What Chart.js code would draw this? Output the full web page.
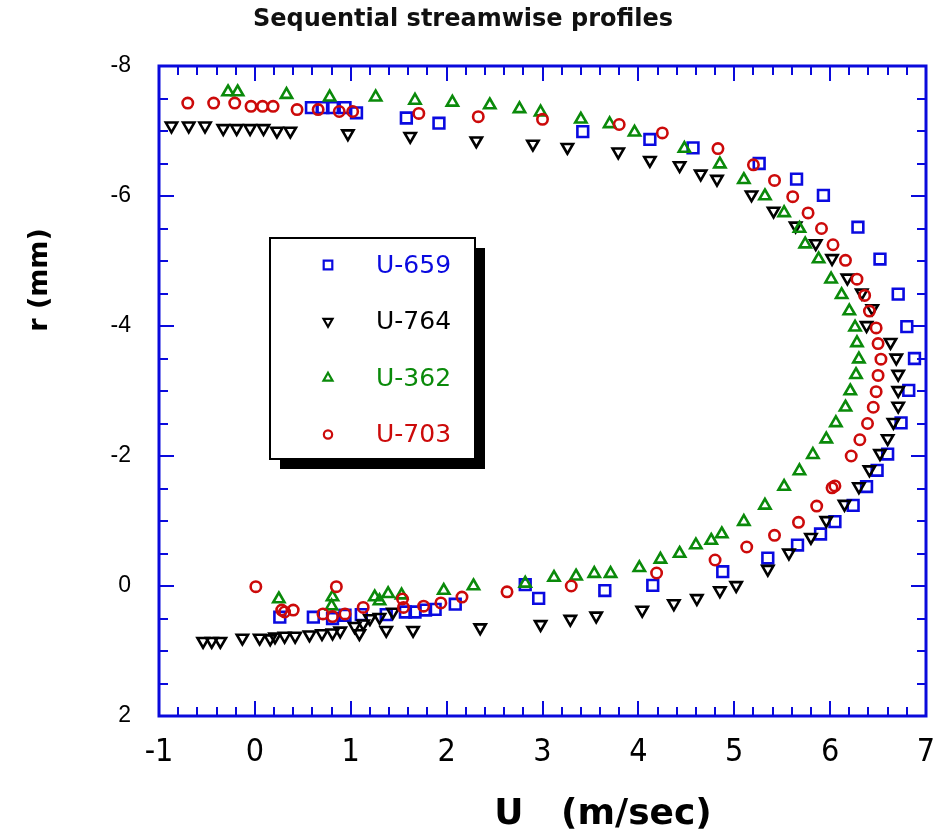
<!DOCTYPE html>
<html>
<head>
<meta charset="utf-8">
<title>Sequential streamwise profiles</title>
<script src="https://cdn.jsdelivr.net/npm/chart.js@4.4.1/dist/chart.umd.min.js"></script>
<style>
  html, body { margin: 0; padding: 0; background: #fff; }
  #wrap { width: 937px; height: 839px; }
</style>
</head>
<body>
<div id="wrap"><canvas id="myChart" width="937" height="839"></canvas></div>
<script>
// streamwise velocity U (m/sec) against radial position r (mm), one pair of arrays per run
const u659 = [0.59, 0.71, 0.81, 0.94, 1.06, 1.58, 1.92, 3.42, 4.12, 4.57, 5.26, 5.65, 5.93, 6.29, 6.52,
  6.71, 6.80, 6.88, 6.82, 6.74, 6.60, 6.49, 6.38, 6.24, 6.05, 5.90, 5.66, 5.35, 4.88, 4.15, 3.65,
  2.96, 2.82, 2.09, 1.88, 1.78, 1.67, 1.57, 1.37, 1.11, 0.94, 0.81, 0.61, 0.26];
const r659 = [-7.36, -7.36, -7.36, -7.36, -7.28, -7.20, -7.12, -6.99, -6.87, -6.74, -6.50, -6.26, -6.01, -5.52, -5.03,
  -4.49, -3.99, -3.50, -3.01, -2.51, -2.03, -1.78, -1.53, -1.24, -0.99, -0.80, -0.63, -0.43, -0.22, -0.01, 0.07,
  0.19, -0.02, 0.28, 0.36, 0.37, 0.40, 0.40, 0.44, 0.44, 0.45, 0.50, 0.48, 0.48];

const u764 = [-0.87, -0.69, -0.52, -0.33, -0.19, -0.05, 0.09, 0.23, 0.37, 0.97, 1.62, 2.31, 2.90, 3.26, 3.79,
  4.12, 4.43, 4.65, 4.82, 5.18, 5.41, 5.64, 5.85, 6.02, 6.18, 6.33, 6.44, 6.38, 6.63, 6.69, 6.71, 6.71,
  6.71, 6.66, 6.60, 6.52, 6.41, 6.30, 6.15, 5.96, 5.80, 5.57, 5.35, 5.02, 4.85, 4.61, 4.37, 4.04, 3.56,
  3.29, 2.98, 2.35, 1.65, 1.37, 1.44, 1.30, 1.20, 1.13, 1.04, 1.09, 0.89, 0.81, 0.70, 0.57, 0.42, 0.31,
  0.21, 0.16, 0.05, -0.13, -0.36, -0.45, -0.54];
const r764 = [-7.08, -7.08, -7.08, -7.04, -7.04, -7.04, -7.04, -7.00, -7.00, -6.96, -6.92, -6.85, -6.80, -6.75, -6.68,
  -6.55, -6.47, -6.34, -6.26, -6.02, -5.77, -5.54, -5.27, -5.04, -4.74, -4.51, -4.27, -4.01, -3.75, -3.51, -3.26, -3.01,
  -2.77, -2.52, -2.27, -2.04, -1.79, -1.53, -1.26, -1.01, -0.75, -0.51, -0.26, -0.01, 0.07, 0.19, 0.27, 0.37, 0.46,
  0.51, 0.59, 0.64, 0.68, 0.68, 0.40, 0.48, 0.50, 0.58, 0.62, 0.73, 0.69, 0.72, 0.73, 0.75, 0.77, 0.77,
  0.78, 0.81, 0.80, 0.80, 0.85, 0.85, 0.85];

const u362 = [-0.28, -0.18, 0.33, 0.78, 1.26, 1.67, 2.06, 2.45, 2.76, 2.98, 3.40, 3.70, 3.96, 4.48, 4.85,
  5.10, 5.32, 5.52, 5.68, 5.74, 5.88, 6.01, 6.12, 6.20, 6.26, 6.28, 6.30, 6.27, 6.21, 6.16, 6.06, 5.96,
  5.82, 5.68, 5.52, 5.32, 5.10, 4.87, 4.76, 4.60, 4.43, 4.23, 4.01, 3.71, 3.54, 3.35, 3.12, 2.82, 2.28,
  1.97, 1.53, 1.39, 1.30, 1.25, 0.81, 0.80, 0.25];
const r362 = [-7.60, -7.60, -7.56, -7.52, -7.52, -7.47, -7.44, -7.40, -7.34, -7.29, -7.18, -7.11, -6.98, -6.73, -6.49,
  -6.25, -6.00, -5.74, -5.50, -5.26, -5.03, -4.72, -4.48, -4.23, -3.98, -3.74, -3.49, -3.25, -3.00, -2.75, -2.51, -2.26,
  -2.02, -1.77, -1.53, -1.24, -0.99, -0.80, -0.70, -0.63, -0.50, -0.41, -0.28, -0.19, -0.19, -0.15, -0.13, -0.04, 0.00,
  0.07, 0.14, 0.12, 0.23, 0.17, 0.17, 0.31, 0.20];

const u703 = [-0.70, -0.43, -0.21, -0.04, 0.08, 0.19, 0.44, 0.66, 0.88, 1.02, 1.71, 2.33, 3.00, 3.80, 4.25,
  4.83, 5.20, 5.42, 5.61, 5.77, 5.91, 6.03, 6.16, 6.28, 6.36, 6.41, 6.48, 6.50, 6.53, 6.50, 6.48, 6.45,
  6.39, 6.31, 6.22, 6.05, 6.02, 5.86, 5.67, 5.42, 5.13, 4.80, 4.19, 3.30, 2.63, 2.16, 1.94, 1.76, 1.55,
  1.54, 1.13, 0.94, 0.81, 0.71, 0.40, 0.31, 0.28, 0.85, 0.01];
const r703 = [-7.43, -7.43, -7.43, -7.38, -7.38, -7.38, -7.33, -7.33, -7.30, -7.30, -7.27, -7.22, -7.18, -7.10, -6.97,
  -6.73, -6.48, -6.24, -5.99, -5.74, -5.50, -5.25, -5.01, -4.72, -4.47, -4.23, -3.97, -3.73, -3.49, -3.24, -2.99, -2.75,
  -2.50, -2.25, -2.00, -1.54, -1.51, -1.23, -0.98, -0.78, -0.60, -0.40, -0.20, 0.00, 0.09, 0.17, 0.26, 0.31, 0.33,
  0.20, 0.33, 0.43, 0.47, 0.43, 0.37, 0.40, 0.37, 0.01, 0.01];

const runNames = ["U-659", "U-764", "U-362", "U-703"];
const xTickValues = [-1, 0, 1, 2, 3, 4, 5, 6, 7];
const yTickValues = [-8, -6, -4, -2, 0, 2];

const axisBlue = "#0a0adc";
const runColors = ["#0a0ae0", "#000000", "#0a8a0a", "#cc0a0a"];

function toPoints(us, rs) {
  return us.map((u, i) => ({ x: u, y: rs[i] }));
}

// blue frame with short tick marks pointing inwards on all four sides
const framePlugin = {
  id: "frame",
  beforeDatasetsDraw(chart) {
    const { ctx, chartArea: a, scales } = chart;
    const x = scales.x, y = scales.y;
    ctx.save();
    ctx.strokeStyle = axisBlue;
    ctx.lineWidth = 2;
    ctx.beginPath();
    for (let i = 0; i <= 40; i++) {
      const px = Math.round(x.getPixelForValue(-1 + i * 0.2));
      const len = i % 5 === 0 ? 15 : 9;
      ctx.moveTo(px, a.bottom); ctx.lineTo(px, a.bottom - len);
      ctx.moveTo(px, a.top); ctx.lineTo(px, a.top + len);
    }
    for (let i = 0; i <= 20; i++) {
      const py = Math.round(y.getPixelForValue(-8 + i * 0.5));
      const len = i % 4 === 0 ? 15 : 9;
      ctx.moveTo(a.left, py); ctx.lineTo(a.left + len, py);
      ctx.moveTo(a.right, py); ctx.lineTo(a.right - len, py);
    }
    ctx.stroke();
    ctx.lineWidth = 3;
    ctx.strokeRect(a.left, a.top, a.right - a.left, a.bottom - a.top);
    ctx.restore();
  }
};

// axis captions, set off-centre like the original plot
const captionPlugin = {
  id: "captions",
  afterDraw(chart) {
    const ctx = chart.ctx;
    ctx.save();
    ctx.fillStyle = "#000";
    ctx.textAlign = "center";
    ctx.textBaseline = "middle";
    ctx.font = "bold 36px 'DejaVu Sans'";
    ctx.fillText("U   (m/sec)", 603, 815);
    ctx.translate(40, 280);
    ctx.rotate(-Math.PI / 2);
    ctx.font = "bold 27px 'DejaVu Sans'";
    ctx.fillText("r (mm)", 0, 0);
    ctx.restore();
  }
};

// boxed legend with a drop shadow
const boxLegendPlugin = {
  id: "boxLegend",
  afterDraw(chart) {
    const ctx = chart.ctx;
    const bx = 270, by = 238, bw = 205, bh = 221, shadow = 10;
    ctx.save();
    ctx.fillStyle = "#000";
    ctx.fillRect(bx + shadow, by + shadow, bw, bh);
    ctx.fillStyle = "#fff";
    ctx.fillRect(bx, by, bw, bh);
    ctx.strokeStyle = "#000";
    ctx.lineWidth = 2;
    ctx.strokeRect(bx, by, bw, bh);
    ctx.font = "25px 'DejaVu Sans'";
    ctx.textAlign = "left";
    ctx.textBaseline = "middle";
    chart.data.datasets.forEach((ds, i) => {
      const rowY = by + 27 + i * 56.5;
      ctx.strokeStyle = ds.borderColor;
      ctx.fillStyle = "#fff";
      ctx.lineWidth = 2.2;
      Chart.helpers.drawPoint(ctx, {
        pointStyle: ds.pointStyle,
        rotation: ds.rotation || 0,
        radius: ds.pointRadius * 0.8,
        borderWidth: 2.2
      }, bx + 58, rowY);
      ctx.fillStyle = ds.borderColor;
      ctx.fillText(ds.label, bx + 106, rowY + 1);
    });
    ctx.restore();
  }
};

new Chart("myChart", {
  type: "scatter",
  data: {
    datasets: [
      {
        label: runNames[0],
        data: toPoints(u659, r659),
        pointStyle: "rect",
        pointRadius: 7.6,
        borderColor: runColors[0],
        backgroundColor: "rgba(0,0,0,0)",
        borderWidth: 2.6,
        order: 3
      },
      {
        label: runNames[1],
        data: toPoints(u764, r764),
        pointStyle: "triangle",
        rotation: 180,
        pointRadius: 6.5,
        borderColor: runColors[1],
        backgroundColor: "rgba(0,0,0,0)",
        borderWidth: 2.6,
        order: 2
      },
      {
        label: runNames[2],
        data: toPoints(u362, r362),
        pointStyle: "triangle",
        pointRadius: 6.5,
        borderColor: runColors[2],
        backgroundColor: "rgba(0,0,0,0)",
        borderWidth: 2.6,
        order: 1
      },
      {
        label: runNames[3],
        data: toPoints(u703, r703),
        pointStyle: "circle",
        pointRadius: 5.2,
        borderColor: runColors[3],
        backgroundColor: "rgba(0,0,0,0)",
        borderWidth: 2.6,
        order: 0
      }
    ]
  },
  options: {
    responsive: false,
    animation: false,
    events: [],
    layout: { padding: { top: 0, right: 11, bottom: 0, left: 0 } },
    plugins: {
      legend: { display: false },
      tooltip: { enabled: false },
      title: {
        display: true,
        text: "Sequential streamwise profiles",
        color: "#111",
        font: { family: "'DejaVu Sans'", size: 24, weight: "bold" },
        padding: { top: 5, bottom: 32.2 }
      }
    },
    scales: {
      x: {
        type: "linear",
        min: -1,
        max: 7,
        grid: { display: false, drawTicks: false, tickLength: 0 },
        border: { display: false },
        afterBuildTicks: (scale) => { scale.ticks = xTickValues.map((v) => ({ value: v })); },
        afterFit: (scale) => {
          scale.height = 123;
          scale.paddingLeft = 0;
          scale.paddingRight = 0;
        },
        ticks: {
          color: "#000",
          padding: 17,
          maxRotation: 0,
          font: { family: "'Liberation Sans Narrow', 'DejaVu Sans Condensed', sans-serif", size: 32 },
          callback: (v) => String(v)
        }
      },
      y: {
        type: "linear",
        min: -8,
        max: 2,
        reverse: true,
        grid: { display: false, drawTicks: false, tickLength: 0 },
        border: { display: false },
        afterBuildTicks: (scale) => { scale.ticks = yTickValues.map((v) => ({ value: v })); },
        afterFit: (scale) => {
          scale.width = 159;
          scale.paddingTop = 0;
          scale.paddingBottom = 0;
        },
        ticks: {
          color: "#000",
          padding: 28,
          font: { family: "'Liberation Sans', sans-serif", size: 23 },
          callback: (v) => String(v)
        }
      }
    }
  },
  plugins: [framePlugin, captionPlugin, boxLegendPlugin]
});
</script>
</body>
</html>
